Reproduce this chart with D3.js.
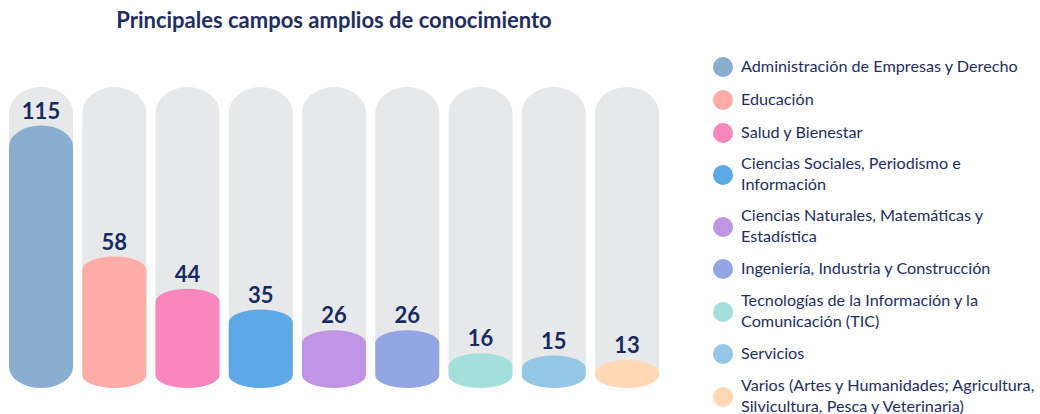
<!DOCTYPE html>
<html>
<head>
<meta charset="utf-8">
<script src="https://cdn.jsdelivr.net/npm/d3@7"></script>
<style>
  html, body { margin: 0; padding: 0; background: #ffffff; }
  svg { display: block; }
</style>
</head>
<body>
<svg id="chart" width="1040" height="414"></svg>
<script>
const title = "Principales campos amplios de conocimiento";
const categories = [
  "Administración de Empresas y Derecho",
  "Educación",
  "Salud y Bienestar",
  "Ciencias Sociales, Periodismo e Información",
  "Ciencias Naturales, Matemáticas y Estadística",
  "Ingeniería, Industria y Construcción",
  "Tecnologías de la Información y la Comunicación (TIC)",
  "Servicios",
  "Varios (Artes y Humanidades; Agricultura, Silvicultura, Pesca y Veterinaria)"
];
const values = [115, 58, 44, 35, 26, 26, 16, 15, 13];
const legendLines = [
  ["Administración de Empresas y Derecho"],
  ["Educación"],
  ["Salud y Bienestar"],
  ["Ciencias Sociales, Periodismo e", "Información"],
  ["Ciencias Naturales, Matemáticas y", "Estadística"],
  ["Ingeniería, Industria y Construcción"],
  ["Tecnologías de la Información y la", "Comunicación (TIC)"],
  ["Servicios"],
  ["Varios (Artes y Humanidades; Agricultura,", "Silvicultura, Pesca y Veterinaria)"]
];
const colors = ["#8aaecf", "#ffaba7", "#f986bc", "#5da8e6", "#c095e4", "#94a5e4", "#a3e0dc", "#94c6e6", "#ffd8b6"];

const svg = d3.select("#chart");
const navy = "#152a63";
const fontFamily = "Lato, 'Open Sans', sans-serif";

// Title
svg.append("text")
  .attr("x", 334).attr("y", 28)
  .attr("text-anchor", "middle")
  .attr("font-family", fontFamily)
  .attr("font-weight", 700)
  .attr("font-size", 22)
  .attr("fill", "#1f2d64")
  .text(title);

const x = d3.scaleBand().domain(categories).range([9, 659]).paddingInner(0.126).paddingOuter(0);
const y = d3.scaleLinear().domain([0, 115]).range([390, 125.5]);
const color = d3.scaleOrdinal().domain(categories).range(colors);

const bottom = 388;
const trackTop = 87;
const trackBottom = 382;

function capsule(x0, w, top, bot, ryTop, ryBot) {
  const rx = w / 2;
  return `M${x0},${top + ryTop}` +
    `A${rx},${ryTop} 0 0 1 ${x0 + w},${top + ryTop}` +
    `L${x0 + w},${bot - ryBot}` +
    `A${rx},${ryBot} 0 0 1 ${x0},${bot - ryBot}Z`;
}

const data = categories.map((c, i) => ({ c, v: values[i] }));

const g = svg.append("g");

// Grey tracks
g.selectAll("path.track").data(data).join("path")
  .attr("class", "track")
  .attr("fill", "#e7e8ea")
  .attr("d", d => capsule(x(d.c), x.bandwidth(), trackTop, trackBottom, 26, 14));

// Coloured bars
g.selectAll("path.bar").data(data).join("path")
  .attr("class", "bar")
  .attr("fill", d => color(d.c))
  .attr("d", d => {
    const top = y(d.v);
    const h = bottom - top;
    const r = Math.min(h > 200 ? 21 : 13, h / 2);
    const rb = Math.min(h > 200 ? 21 : 13, h / 2);
    return capsule(x(d.c), x.bandwidth(), top, bottom, r, rb);
  });

// Value labels
g.selectAll("text.val").data(data).join("text")
  .attr("class", "val")
  .attr("x", d => x(d.c) + x.bandwidth() / 2)
  .attr("y", d => y(d.v) - 7)
  .attr("text-anchor", "middle")
  .attr("font-family", fontFamily)
  .attr("font-weight", 700)
  .attr("font-size", 22)
  .attr("fill", navy)
  .text(d => d.v);

// Legend
const legendCenters = [66, 99, 132, 174, 226, 268, 311, 353, 396];
const lineH = 21.5;
const lg = svg.append("g");
categories.forEach((c, i) => {
  const cy = legendCenters[i];
  lg.append("circle").attr("cx", 723).attr("cy", cy + 1).attr("r", 10).attr("fill", color(c));
  const lines = legendLines[i];
  const first = cy - (lines.length - 1) * lineH / 2;
  lines.forEach((t, j) => {
    lg.append("text")
      .attr("x", 741)
      .attr("y", first + j * lineH + 5.5)
      .attr("font-family", fontFamily)
      .attr("font-size", 16.2)
      .attr("fill", "#1f2d64")
      .text(t);
  });
});
</script>
</body>
</html>
